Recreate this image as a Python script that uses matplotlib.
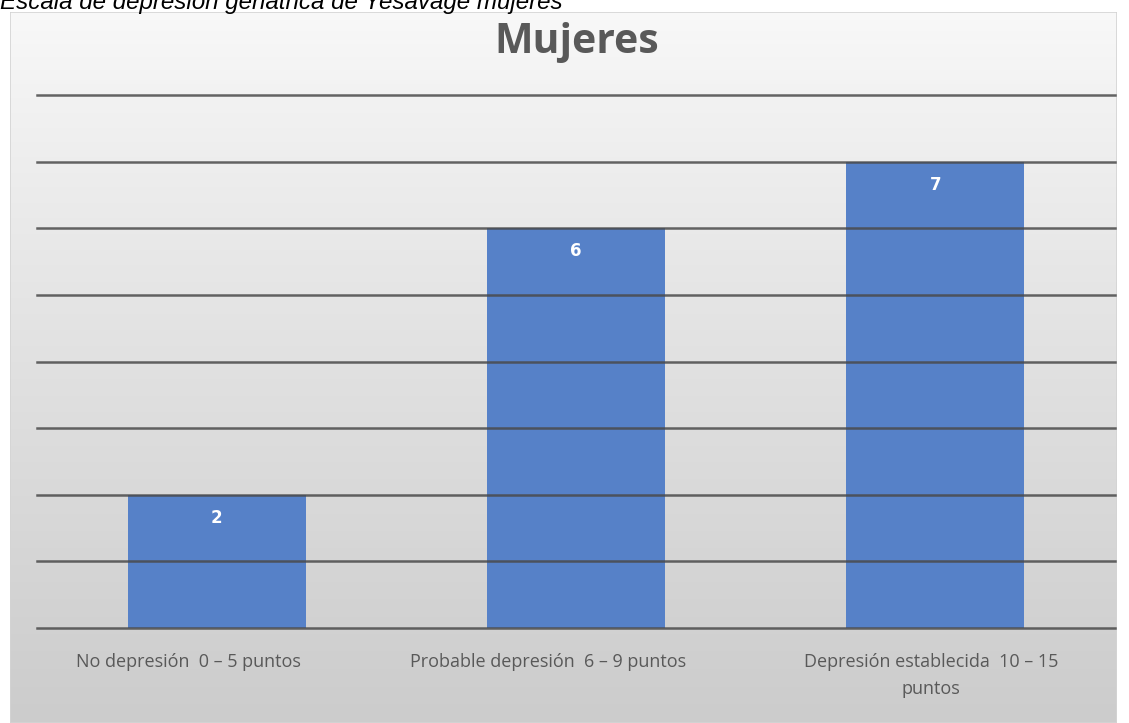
import numpy as np
import matplotlib
matplotlib.use('Agg')
import matplotlib.pyplot as plt

# ── data ───────────────────────────────────────────────────────────────────
CATEGORIES = ['No depresión  0 – 5 puntos',
              'Probable depresión  6 – 9 puntos',
              'Depresión establecida  10 – 15\npuntos']
VALUES = [2, 6, 7]

TITLE = 'Mujeres'
CAPTION = 'Escala de depresión geriátrica de Yesavage mujeres'

BAR_COLOR = '#5681c8'
TEXT_GRAY = '#595959'
GRID_COLOR = '#4a4a4a'
LABEL_SHIFT = [-20, -20, -3]   # horizontal nudge of category labels, points

W, H = 1129, 723
fig = plt.figure(figsize=(W / 100, H / 100), dpi=100)
fig.patch.set_facecolor('white')

# ── chart-area background (soft vertical gradient) ────────────────────────
bg = fig.add_axes([10 / W, 0, 1107 / W, 711 / H], zorder=0)
grad = np.linspace(0, 1, 256)[:, None]
top = np.array([0.975, 0.975, 0.975])
bot = np.array([0.80, 0.80, 0.80])
img = top + (bot - top) * grad[..., None] ** 0.9
img = np.repeat(img, 4, axis=1)
bg.imshow(img, aspect='auto', extent=(0, 1, 0, 1))
bg.set_xlim(0, 1)
bg.set_ylim(0, 1)
bg.axis('off')
bg.add_patch(plt.Rectangle((0, 0), 1, 1, transform=bg.transAxes, fill=False,
                           ec='#d4d4d4', lw=1.2))

# ── bar chart ─────────────────────────────────────────────────────────────
ax = fig.add_axes([37 / W, 95 / H, 1078 / W, 533 / H], zorder=1)
ax.patch.set_alpha(0)
x = np.arange(len(CATEGORIES))
bars = ax.bar(x, VALUES, width=0.495, color=BAR_COLOR, zorder=2)

ax.set_xlim(-0.5, len(CATEGORIES) - 0.5)
ax.set_ylim(0, 8)
ax.set_yticks(np.arange(0, 9, 1))
ax.yaxis.grid(True, color=GRID_COLOR, lw=1.8, alpha=0.85, zorder=3)
ax.set_axisbelow(False)
for gl in ax.get_ygridlines():
    gl.set_clip_on(False)
ax.tick_params(axis='y', left=False, labelleft=False)
ax.set_xticks(x)
ax.tick_params(axis='x', bottom=False, labelbottom=False)
for s in ax.spines.values():
    s.set_visible(False)

# category labels under the bars
for xi, lbl, dx in zip(x, CATEGORIES, LABEL_SHIFT):
    ax.annotate(lbl, (xi, 0), xycoords=('data', 'axes fraction'),
                xytext=(dx, -18), textcoords='offset points',
                ha='center', va='top', multialignment='center',
                fontsize=13, color=TEXT_GRAY, linespacing=1.65,
                family=['Open Sans', 'DejaVu Sans'], annotation_clip=False)

for b, v in zip(bars, VALUES):
    ax.annotate(str(v), (b.get_x() + b.get_width() / 2, v),
                xytext=(0, -10), textcoords='offset points',
                ha='center', va='top', color='white', fontsize=12,
                fontweight='bold', zorder=4)

fig.text(577 / W, 1 - 53 / H, TITLE, ha='center', va='baseline',
         fontsize=29.5, fontweight='bold', color=TEXT_GRAY,
         family=['Open Sans', 'DejaVu Sans'])

# caption sits partly above the top edge
fig.text(0, 1 - 9 / H, CAPTION, ha='left', va='baseline', fontsize=17.4,
         style='italic', color='black', family=['Liberation Sans', 'DejaVu Sans'])

fig.savefig('out.png', dpi=100)
